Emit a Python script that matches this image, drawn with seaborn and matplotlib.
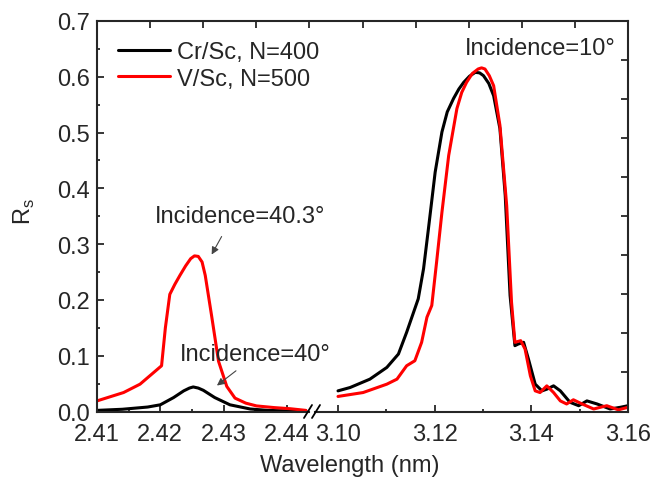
import numpy as np
import pandas as pd
import matplotlib
matplotlib.use("Agg")
import matplotlib.pyplot as plt
from matplotlib.lines import Line2D
import seaborn as sns

# ---------- data ----------
# left segment: 40 deg (Cr/Sc) and 40.3 deg (V/Sc)
wl_cr_left = [2.410, 2.414, 2.418, 2.420, 2.4221, 2.4237, 2.4246, 2.4252, 2.4260, 2.4268,
              2.4286, 2.431, 2.4342, 2.437, 2.4405, 2.443]
rs_cr_left = [0.002, 0.004, 0.008, 0.012, 0.025, 0.037, 0.042, 0.044, 0.042, 0.038,
              0.025, 0.012, 0.0045, 0.002, 0.001, 0.001]

wl_v_left = [2.410, 2.4142, 2.4168, 2.4202, 2.4208, 2.4215, 2.4223, 2.4231, 2.4240, 2.4248,
             2.4254, 2.4260, 2.4266, 2.4271, 2.4281, 2.4292, 2.4305, 2.4318, 2.4335, 2.4352,
             2.4380, 2.4405, 2.443]
rs_v_left = [0.019, 0.034, 0.049, 0.082, 0.150, 0.210, 0.228, 0.244, 0.261, 0.274,
             0.279, 0.278, 0.268, 0.244, 0.172, 0.090, 0.045, 0.024, 0.015, 0.010,
             0.007, 0.005, 0.002]

# right segment: 10 deg
wl_cr_right = [3.1000, 3.1025, 3.1066, 3.1101, 3.1125, 3.1142, 3.1166, 3.1177, 3.1187, 3.1201,
               3.1215, 3.1226, 3.1239, 3.1250, 3.1260, 3.1272, 3.1284, 3.1293, 3.1301, 3.1312,
               3.1322, 3.1335, 3.1346, 3.1356, 3.1366, 3.1373, 3.1384, 3.1394, 3.1408, 3.1422,
               3.1432, 3.1446, 3.1460, 3.1480, 3.1498, 3.1515, 3.1536, 3.1563, 3.1584, 3.1600]
rs_cr_right = [0.037, 0.043, 0.058, 0.079, 0.103, 0.142, 0.202, 0.256, 0.327, 0.429,
               0.501, 0.537, 0.561, 0.578, 0.590, 0.601, 0.608, 0.607, 0.602, 0.588,
               0.566, 0.507, 0.387, 0.208, 0.118, 0.121, 0.124, 0.094, 0.049, 0.037,
               0.040, 0.046, 0.037, 0.0165, 0.0104, 0.019, 0.0135, 0.0045, 0.0075, 0.0104]

wl_v_right = [3.1000, 3.1052, 3.1101, 3.1122, 3.1142, 3.1159, 3.1173, 3.1184, 3.1194, 3.1204,
              3.1215, 3.1229, 3.1246, 3.1256, 3.1266, 3.1278, 3.1290, 3.1297, 3.1304, 3.1313,
              3.1322, 3.1335, 3.1349, 3.1359, 3.1366, 3.1378, 3.1387, 3.1398, 3.1408, 3.1418,
              3.1432, 3.1446, 3.1460, 3.1473, 3.1487, 3.1505, 3.1529, 3.1556, 3.1580, 3.1600]
rs_v_right = [0.027, 0.034, 0.049, 0.058, 0.082, 0.091, 0.124, 0.169, 0.190, 0.268,
              0.357, 0.459, 0.543, 0.572, 0.590, 0.606, 0.614, 0.616, 0.614, 0.602,
              0.584, 0.513, 0.369, 0.196, 0.124, 0.127, 0.112, 0.064, 0.037, 0.034,
              0.046, 0.034, 0.019, 0.0135, 0.021, 0.0135, 0.0045, 0.0104, 0.003, 0.0075]

left_ticks = [2.41, 2.42, 2.43, 2.44]
right_ticks = [3.10, 3.12, 3.14, 3.16]
y_ticks = [0.0, 0.1, 0.2, 0.3, 0.4, 0.5, 0.6, 0.7]

label_cr = "Cr/Sc, N=400"
label_v = "V/Sc, N=500"

# ---------- style ----------
sns.set_style("ticks")
plt.rcParams["font.family"] = ["Liberation Sans", "DejaVu Sans"]
plt.rcParams["font.size"] = 17
plt.rcParams["axes.linewidth"] = 1.5
fs = 17

W, H = 651, 481
fig = plt.figure(figsize=(W / 100, H / 100), dpi=100)

def px_rect(x0, x1, y_top, y_bot):
    return [x0 / W, 1 - y_bot / H, (x1 - x0) / W, (y_bot - y_top) / H]

y_top, y_bot = 22, 412.5
x0, x_brk_l, x_brk_r, x1 = 97, 309, 315, 628

ax_l = fig.add_axes(px_rect(x0, x_brk_l, y_top, y_bot))
ax_r = fig.add_axes(px_rect(x_brk_r, x1, y_top, y_bot))
ax_o = fig.add_axes(px_rect(x0, x1, y_top, y_bot))  # frame overlay: top/right ticks

lw = 2.2
line_kw = dict(lw=lw, estimator=None, sort=False, solid_joinstyle="round",
               solid_capstyle="round")
sns.lineplot(x=wl_cr_left, y=rs_cr_left, ax=ax_l, color="black", label=label_cr, **line_kw)
sns.lineplot(x=wl_v_left, y=rs_v_left, ax=ax_l, color="#ff0000", label=label_v, **line_kw)
sns.lineplot(x=wl_cr_right, y=rs_cr_right, ax=ax_r, color="black", **line_kw)
sns.lineplot(x=wl_v_right, y=rs_v_right, ax=ax_r, color="#ff0000", **line_kw)

# x scales: 0.01 nm = 63.3 px on the left, 48.3 px on the right
ax_l.set_xlim(2.41, 2.41 + (x_brk_l - x0) / 6330)
ax_r.set_xlim(3.10 - (338 - x_brk_r) / 4830, 3.16)
for ax in (ax_l, ax_r, ax_o):
    ax.set_ylim(0, 0.7)

ax_l.set_xticks(left_ticks)
ax_l.set_xticklabels([f"{t:.2f}" for t in left_ticks])
ax_l.set_xticks(np.arange(2.415, 2.444, 0.01), minor=True)
ax_l.set_yticks(y_ticks)
ax_l.set_yticklabels([f"{t:.1f}" for t in y_ticks])
ax_l.set_yticks(np.arange(0.05, 0.7, 0.1), minor=True)

ax_r.set_xticks(right_ticks)
ax_r.set_xticklabels([f"{t:.2f}" for t in right_ticks])
ax_r.set_xticks([3.11, 3.13, 3.15], minor=True)
ax_r.set_yticks([])

for ax in (ax_l, ax_r):
    ax.tick_params(which="major", direction="in", length=5, width=1.3, labelsize=fs, pad=8)
    ax.tick_params(which="minor", direction="in", length=2.5, width=1.3)
    ax.spines["top"].set_visible(False)
    ax.spines["right"].set_visible(False)
    ax.set_xlabel("")
    ax.set_ylabel("")
    ax.patch.set_alpha(0)
ax_l.tick_params(axis="y", pad=5)
ax_r.spines["left"].set_visible(False)
ax_r.tick_params(axis="y", left=False, labelleft=False)

# overlay frame with 10 divisions on top and right
ax_o.set_xlim(0, 10)
ax_o.set_xticks(range(11))
ax_o.set_yticks(np.linspace(0, 0.7, 11))
ax_o.tick_params(direction="in", length=5, width=1.3, top=True, right=True, bottom=False,
                 left=False, labeltop=False, labelright=False, labelbottom=False, labelleft=False)
ax_o.spines["left"].set_visible(False)
ax_o.spines["bottom"].set_visible(False)
ax_o.patch.set_alpha(0)

# axis break marks
for cx in (x_brk_l - 1, x_brk_r + 1):
    fig.add_artist(Line2D([(cx - 4) / W, (cx + 4) / W], [1 - 419 / H, 1 - 406 / H],
                          color="black", lw=1.3))

ax_l.legend(loc="upper left", bbox_to_anchor=(118 / W, 1 - 42 / H),
            bbox_transform=fig.transFigure, frameon=False, fontsize=fs,
            handlelength=2.2, handletextpad=0.3, labelspacing=0.2, borderpad=0,
            borderaxespad=0)

# annotations
arrow_kw = dict(arrowstyle="-|>", color="#444444", lw=0.8, mutation_scale=11)
ax_l.text(2.4326, 0.3507, "Incidence=40.3°", ha="center", va="center", fontsize=fs)
ax_l.annotate("", xy=(2.4279, 0.277), xytext=(2.4299, 0.318), arrowprops=arrow_kw)
ax_l.text(2.41 + (180 - x0) / 6330, 0.103, "Incidence=40°", ha="left", va="center",
          fontsize=fs, clip_on=False)
ax_l.annotate("", xy=(2.4286, 0.0435), xytext=(2.4323, 0.076), arrowprops=arrow_kw)
ax_r.text(3.1418, 0.652, "Incidence=10°", ha="center", va="center", fontsize=fs)

fig.text(350 / W, 1 - 466 / H, "Wavelength (nm)", ha="center", va="center", fontsize=fs)
fig.text(24 / W, 1 - 212 / H, "R$_\\mathregular{s}$", ha="center", va="center",
         rotation=90, fontsize=fs)

fig.savefig("out.png", dpi=100)
